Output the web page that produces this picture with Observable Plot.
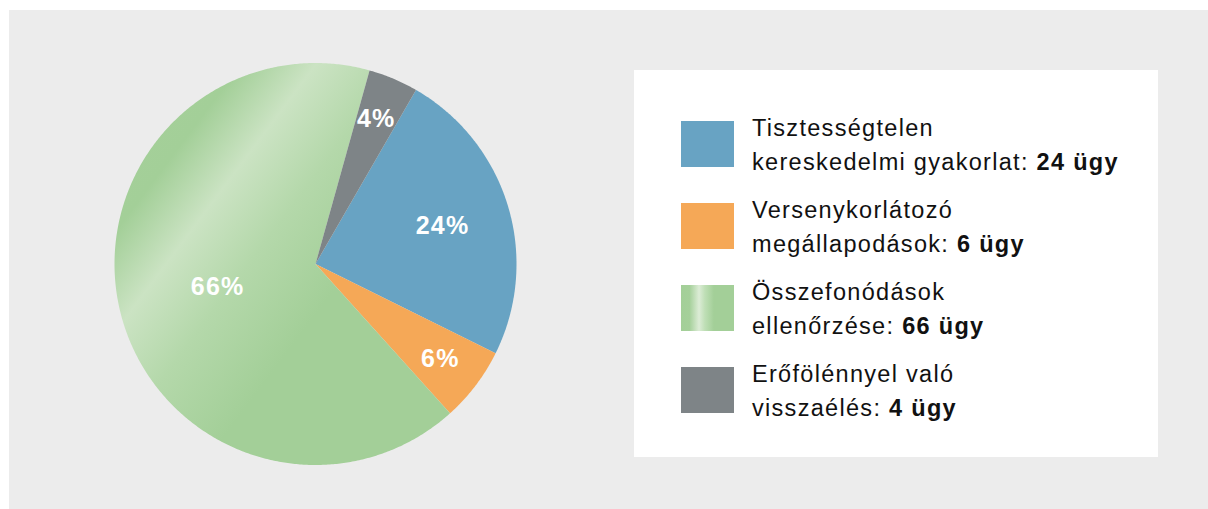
<!DOCTYPE html>
<html>
<head>
<meta charset="utf-8">
<script src="https://cdn.jsdelivr.net/npm/d3@7"></script>
<script src="https://cdn.jsdelivr.net/npm/@observablehq/plot@0.6"></script>
<style>
  html, body { margin: 0; padding: 0; background: #ffffff; }
  #page { position: relative; width: 1208px; height: 509px; overflow: hidden; background: #ffffff;
          font-family: "Liberation Sans", Arial, Helvetica, sans-serif; }
  #panel { position: absolute; left: 9px; top: 10px; width: 1199px; height: 499px; background: #ececec; }
  #chart { position: absolute; left: 0; top: 0; }
  #legend { position: absolute; left: 634px; top: 70px; width: 524px; height: 387px; background: #ffffff; }
  .sw { position: absolute; left: 47px; width: 53px; height: 46px; }
  .txt { position: absolute; left: 118px; font-size: 23.5px; letter-spacing: 1.3px; line-height: 33.7px; color: #111; white-space: nowrap; }
  .txt b { font-weight: bold; }
</style>
</head>
<body>
<div id="page">
  <div id="panel"></div>
  <div id="chart"></div>
  <div id="legend"></div>
</div>
<script>
// ---- data ----
const categories = [
  "Tisztességtelen kereskedelmi gyakorlat",
  "Versenykorlátozó megállapodások",
  "Összefonódások ellenőrzése",
  "Erőfölénnyel való visszaélés"
];
const cases = [24, 6, 66, 4];
const legendLine1 = ["Tisztességtelen", "Versenykorlátozó", "Összefonódások", "Erőfölénnyel való"];
const legendLine2 = ["kereskedelmi gyakorlat:", "megállapodások:", "ellenőrzése:", "visszaélés:"];
const unit = "ügy";
const colors = ["#68a3c3", "#f5a857", "url(#greenGrad)", "#7e8487"];
const swatchCss = ["#68a3c3", "#f5a857",
  "linear-gradient(to right, #a3cf98 0%, #a5d09a 16%, #dcecd6 34%, #bfdfb6 45%, #a3cf98 62%, #a3cf98 100%)",
  "#7e8487"];

// ---- geometry ----
const W = 630, H = 509, cx = 315, cy = 263.5, R = 201;
const total = d3.sum(cases);
const arcs = d3.pie().sort(null)
  .startAngle(30 * Math.PI / 180)
  .endAngle(390 * Math.PI / 180)(cases);

const pts = [];
arcs.forEach((a, i) => {
  const cat = categories[i];
  pts.push({cat, x: 0, y: 0});
  const n = Math.max(2, Math.ceil((a.endAngle - a.startAngle) / (Math.PI / 360)));
  for (let k = 0; k <= n; k++) {
    const t = a.startAngle + (a.endAngle - a.startAngle) * k / n;
    pts.push({cat, x: Math.sin(t), y: Math.cos(t)});
  }
  pts.push({cat, x: 0, y: 0});
});

const labels = arcs.map((a, i) => {
  const m = (a.startAngle + a.endAngle) / 2;
  const share = cases[i] / total;
  const rr = share > 0.5 ? 0.5 : (share > 0.15 ? 0.66 : 0.78);
  return {x: rr * Math.sin(m), y: rr * Math.cos(m), text: Math.round(share * 100) + "%"};
});

const svg = Plot.plot({
  width: W, height: H,
  margin: 0,
  x: {domain: [-cx / R, (W - cx) / R], axis: null},
  y: {domain: [-(H - cy) / R, cy / R], axis: null},
  color: {domain: categories, range: colors},
  style: {background: "transparent", fontFamily: "'Liberation Sans', Arial, Helvetica, sans-serif", letterSpacing: "1.2px"},
  marks: [
    Plot.line(pts, {x: "x", y: "y", z: "cat", fill: "cat", stroke: "none", curve: "linear-closed"}),
    Plot.text(labels, {x: "x", y: "y", text: "text", fill: "white", fontSize: 25, fontWeight: "bold"})
  ]
});

// gradient for the green slice
const defs = d3.select(svg).insert("defs", ":first-child");
const g = defs.append("linearGradient").attr("id", "greenGrad")
  .attr("gradientUnits", "userSpaceOnUse")
  .attr("x1", 109).attr("y1", 89).attr("x2", 349).attr("y2", 269);
[[0, "#a6d09b"], [0.3, "#a3cf98"], [0.5, "#cbe3c3"], [0.72, "#b4d8aa"], [1, "#a3cf98"]]
  .forEach(([o, c]) => g.append("stop").attr("offset", o).attr("stop-color", c));

document.getElementById("chart").appendChild(svg);

// legend
const legend = document.getElementById("legend");
categories.forEach((c, i) => {
  const top = 51 + i * 82;
  const sw = document.createElement("div");
  sw.className = "sw";
  sw.style.top = top + "px";
  sw.style.background = swatchCss[i];
  legend.appendChild(sw);
  const tx = document.createElement("div");
  tx.className = "txt";
  tx.style.top = (top - 8.6) + "px";
  tx.innerHTML = `${legendLine1[i]}<br>${legendLine2[i]} <b>${cases[i]} ${unit}</b>`;
  legend.appendChild(tx);
});
</script>
</body>
</html>
